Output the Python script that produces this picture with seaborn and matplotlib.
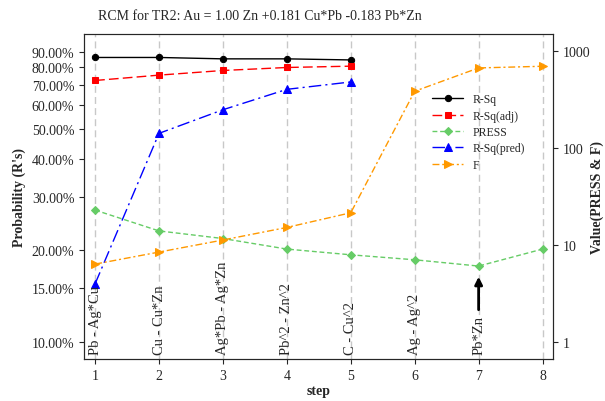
import numpy as np
import matplotlib
matplotlib.use("Agg")
import matplotlib.pyplot as plt
import seaborn as sns
from matplotlib.ticker import PercentFormatter, FixedLocator, NullLocator, FixedFormatter

# ======= DATA =======
steps = [1, 2, 3, 4, 5, 6, 7, 8]
step_labels = ["Pb - Ag*Cu", "Cu - Cu*Zn", "Ag*Pb - Ag*Zn", "Pb^2 - Zn^2",
               "C - Cu^2", "Ag - Ag^2", "Pb*Zn", ""]
r_sq = [0.862, 0.862, 0.853, 0.853, 0.846]
r_sq_adj = [0.724, 0.754, 0.781, 0.799, 0.807]
r_sq_pred = [0.155, 0.485, 0.580, 0.677, 0.716]
press = [22.8, 13.9, 11.6, 9.03, 7.88, 7.0, 6.03, 9.03]
f_val = [6.32, 8.41, 11.2, 15.1, 21.4, 384, 668, 695]
left_ticks = [0.10, 0.15, 0.20, 0.30, 0.40, 0.50, 0.60, 0.70, 0.80, 0.90]
right_ticks = [1, 10, 100, 1000]
title = "RCM for TR2: Au = 1.00 Zn +0.181 Cu*Pb -0.183 Pb*Zn"
# ====================

sns.set_style("ticks")
plt.rcParams['font.family'] = ['Liberation Serif', 'DejaVu Serif']

fig = plt.figure(figsize=(6.05, 4.02), dpi=100)
ax = fig.add_axes([0.139, 0.1045, 0.775, 0.8085])
ax2 = ax.twinx()

# vertical guide lines
for s in steps:
    ax.axvline(s, color="#c8c8c8", lw=1, dashes=(5, 3), zorder=0)

sns.lineplot(x=steps[:5], y=r_sq, ax=ax, color="black", marker="o", markersize=4.5,
             markeredgecolor="black", lw=1, label="R-Sq")
sns.lineplot(x=steps[:5], y=r_sq_adj, ax=ax, color="red", marker="s", markersize=4.5,
             markeredgecolor="red", lw=1, dashes=(7, 3), label="R-Sq(adj)")
sns.lineplot(x=steps, y=press, ax=ax2, color="#66cc66", marker="D", markersize=4,
             markeredgecolor="#66cc66", lw=1, dashes=(3.5, 2), label="PRESS")
sns.lineplot(x=steps[:5], y=r_sq_pred, ax=ax, color="blue", marker="^", markersize=6,
             markeredgecolor="blue", lw=1, dashes=(9, 3, 1.5, 3), label="R-Sq(pred)")
sns.lineplot(x=steps, y=f_val, ax=ax2, color="#ff9900", marker=">", markersize=6,
             markeredgecolor="#ff9900", lw=1, dashes=(5, 2, 1.5, 2), label="F")

# left axis
ax.set_yscale("log")
ax.set_ylim(0.0877, 1.03)
ax.yaxis.set_major_locator(FixedLocator(left_ticks))
ax.yaxis.set_minor_locator(NullLocator())
ax.yaxis.set_major_formatter(PercentFormatter(xmax=1, decimals=2))
ax.set_xlim(0.828, 8.163)
ax.set_xticks(steps)
ax.set_ylabel("Probability (R's)", fontsize=10, fontweight="bold")
ax.set_xlabel("step", fontsize=10, fontweight="bold", labelpad=2)
ax.tick_params(labelsize=10)

# right axis
ax2.set_yscale("log")
ax2.set_ylim(0.663, 1497)
ax2.yaxis.set_major_locator(FixedLocator(right_ticks))
ax2.yaxis.set_major_formatter(FixedFormatter([str(t) for t in right_ticks]))
ax2.yaxis.set_minor_locator(NullLocator())
ax2.set_ylabel("Value(PRESS & F)", fontsize=10, fontweight="bold", labelpad=0.5)
ax2.tick_params(labelsize=10)

# step labels
for s, lab in zip(steps, step_labels):
    if lab:
        ax.text(s, 0.091, lab, rotation=90, ha="center", va="bottom", fontsize=10.5)

# arrow to the chosen step
ax2.annotate("", xy=(7, 5.0), xytext=(7, 2.0),
             arrowprops=dict(arrowstyle="-|>", color="black", lw=2, mutation_scale=11))

# combined legend
h1, l1 = ax.get_legend_handles_labels()
h2, l2 = ax2.get_legend_handles_labels()
ax.get_legend().remove()
ax2.get_legend().remove()
order = ["R-Sq", "R-Sq(adj)", "PRESS", "R-Sq(pred)", "F"]
hd = dict(zip(l1 + l2, h1 + h2))
ax2.legend([hd[k] for k in order], order, loc="upper left", bbox_to_anchor=(0.72, 0.85),
           frameon=False, fontsize=8.5, handlelength=2.6, labelspacing=0.37)

ax.spines["top"].set_color("#555555")

fig.text(0.43, 1 - 16 / 402, title, ha="center", va="center", fontsize=10)
fig.savefig("out.png", dpi=100)
